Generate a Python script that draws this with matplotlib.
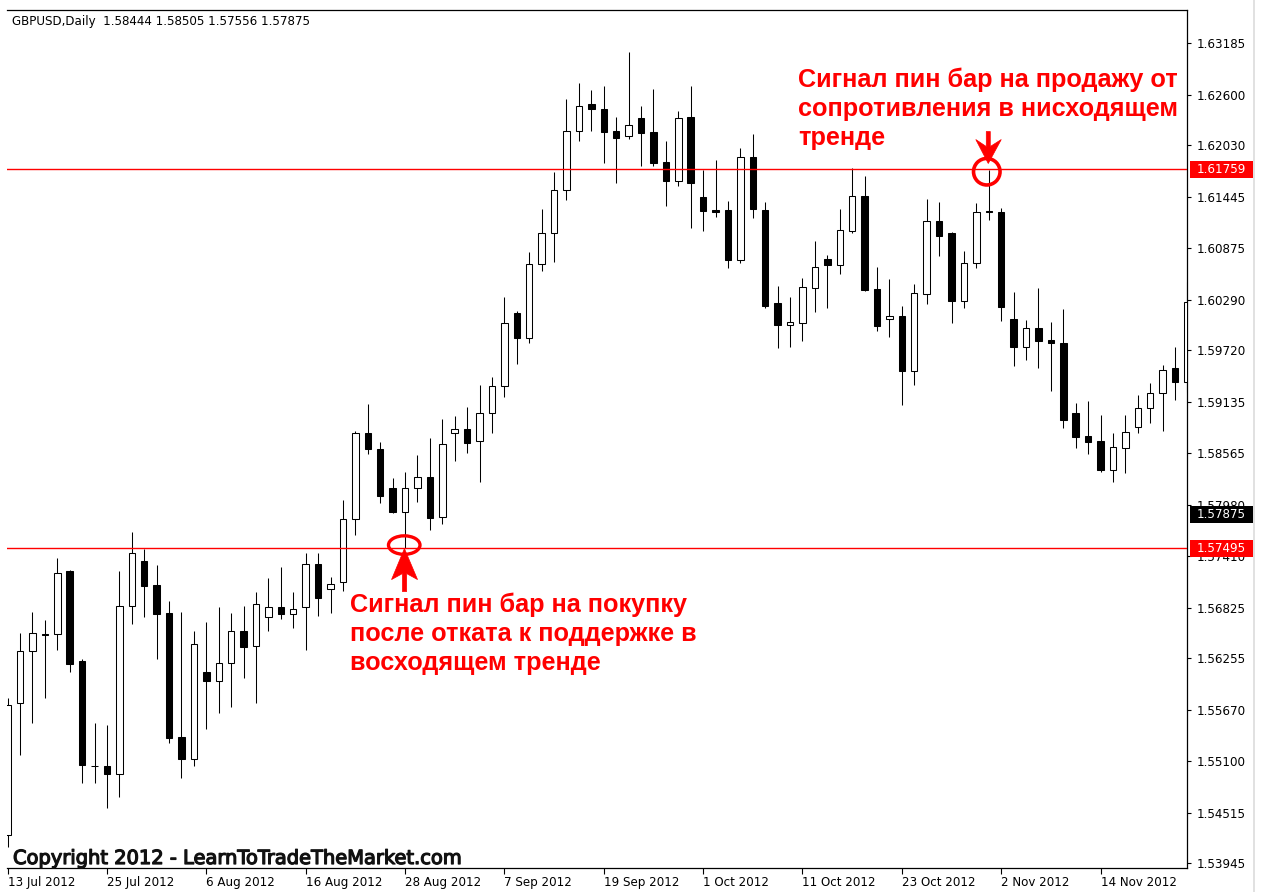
import matplotlib
matplotlib.use('Agg')
import matplotlib.pyplot as plt
import matplotlib.patheffects as pe
from matplotlib.patches import Ellipse, Polygon, Rectangle

# ---------------- data ----------------
opens = [1.54264, 1.55747, 1.56336, 1.56527, 1.56527, 1.57236, 1.56223, 1.55046, 1.55044, 1.54951,
         1.56842, 1.57352, 1.57075, 1.56760, 1.55364, 1.55116, 1.56096, 1.56001, 1.56197, 1.56564,
         1.56392, 1.56722, 1.56828, 1.56752, 1.56828, 1.57315, 1.57034, 1.57109, 1.57822, 1.58787,
         1.58610, 1.58174, 1.57904, 1.58168, 1.58298, 1.57841, 1.58787, 1.58835, 1.58695, 1.59012,
         1.59323, 1.60147, 1.59863, 1.60690, 1.61039, 1.61526, 1.62191, 1.62491, 1.62439, 1.62194,
         1.62134, 1.62334, 1.62176, 1.61845, 1.61628, 1.62352, 1.61444, 1.61301, 1.61301, 1.60738,
         1.61895, 1.61301, 1.60257, 1.60006, 1.60029, 1.60426, 1.60746, 1.60682, 1.61068, 1.61459,
         1.60412, 1.60074, 1.60111, 1.59492, 1.60355, 1.61181, 1.61039, 1.60280, 1.60701, 1.61288,
         1.61282, 1.60074, 1.59755, 1.59976, 1.59837, 1.59800, 1.59012, 1.58756, 1.58700, 1.58374,
         1.58625, 1.58854, 1.59068, 1.59237, 1.59519, 1.59365]
highs = [1.55806, 1.56535, 1.56778, 1.56685, 1.57379, 1.57248, 1.56242, 1.55521, 1.55502, 1.57236,
         1.57672, 1.57481, 1.57304, 1.56902, 1.56778, 1.56564, 1.56659, 1.56828, 1.56760, 1.56846,
         1.57003, 1.57161, 1.57285, 1.57003, 1.57442, 1.57436, 1.57165, 1.58036, 1.58813, 1.59117,
         1.58686, 1.58280, 1.58354, 1.58543, 1.58737, 1.58945, 1.58982, 1.59080, 1.59331, 1.59417,
         1.60327, 1.60167, 1.60832, 1.61309, 1.61726, 1.62548, 1.62728, 1.62652, 1.62701, 1.62352,
         1.63084, 1.62476, 1.62664, 1.62078, 1.62419, 1.62701, 1.61752, 1.61864, 1.61406, 1.62003,
         1.62157, 1.61391, 1.60445, 1.60325, 1.60532, 1.60956, 1.60795, 1.61309, 1.61771, 1.61687,
         1.60663, 1.60521, 1.60224, 1.60468, 1.61425, 1.61395, 1.61048, 1.60843, 1.61377, 1.61757,
         1.61320, 1.60378, 1.60063, 1.60420, 1.60044, 1.60183, 1.59131, 1.59154, 1.58993, 1.58787,
         1.58993, 1.59218, 1.59350, 1.59556, 1.59762, 1.60494]
lows = [1.54129, 1.55165, 1.55528, 1.55803, 1.56347, 1.56103, 1.54846, 1.54846, 1.54564, 1.54688,
        1.56640, 1.56715, 1.56242, 1.55296, 1.54902, 1.55041, 1.55457, 1.55634, 1.55702, 1.56035,
        1.55753, 1.56561, 1.56696, 1.56591, 1.56347, 1.56730, 1.56767, 1.57015, 1.57642, 1.58554,
        1.58005, 1.57893, 1.57500, 1.58010, 1.57698, 1.57762, 1.58478, 1.58568, 1.58235, 1.58794,
        1.59192, 1.59564, 1.59807, 1.60614, 1.60719, 1.61414, 1.62078, 1.62191, 1.61830, 1.61609,
        1.62097, 1.61797, 1.61800, 1.61350, 1.61575, 1.61102, 1.61065, 1.61226, 1.60645, 1.60701,
        1.61208, 1.60194, 1.59742, 1.59753, 1.59830, 1.60156, 1.60194, 1.60577, 1.61046, 1.60389,
        1.59942, 1.59875, 1.59106, 1.59331, 1.60243, 1.60787, 1.60029, 1.60194, 1.60645, 1.61189,
        1.60051, 1.59545, 1.59612, 1.59525, 1.59267, 1.58843, 1.58618, 1.58550, 1.58355, 1.58242,
        1.58343, 1.58794, 1.58899, 1.58813, 1.59162, 1.59255]
closes = [1.55728, 1.56339, 1.56535, 1.56516, 1.57217, 1.56189, 1.55052, 1.55041, 1.54951, 1.56842,
          1.57442, 1.57067, 1.56752, 1.55353, 1.55116, 1.56411, 1.55998, 1.56197, 1.56564, 1.56384,
          1.56861, 1.56828, 1.56752, 1.56808, 1.57315, 1.56929, 1.57090, 1.57822, 1.58794, 1.58607,
          1.58081, 1.57897, 1.58174, 1.58291, 1.57837, 1.58666, 1.58832, 1.58674, 1.59012, 1.59323,
          1.60026, 1.59863, 1.60690, 1.61039, 1.61526, 1.62194, 1.62472, 1.62435, 1.62183, 1.62115,
          1.62258, 1.62172, 1.61827, 1.61628, 1.62334, 1.61609, 1.61293, 1.61282, 1.60738, 1.61895,
          1.61312, 1.60224, 1.60003, 1.60044, 1.60431, 1.60656, 1.60682, 1.61076, 1.61459, 1.60400,
          1.59998, 1.60111, 1.59492, 1.60363, 1.61181, 1.61012, 1.60277, 1.60701, 1.61282, 1.61281,
          1.60212, 1.59755, 1.59969, 1.59826, 1.59800, 1.58937, 1.58749, 1.58692, 1.58374, 1.58629,
          1.58805, 1.59068, 1.59237, 1.59500, 1.59365, 1.60269]

date_tick_idx = [0, 8, 16, 24, 32, 40, 48, 56, 64, 72, 80, 88]
date_labels = ['13 Jul 2012', '25 Jul 2012', '6 Aug 2012', '16 Aug 2012', '28 Aug 2012',
               '7 Sep 2012', '19 Sep 2012', '1 Oct 2012', '11 Oct 2012', '23 Oct 2012',
               '2 Nov 2012', '14 Nov 2012']
price_ticks = [1.63185, 1.62600, 1.62030, 1.61445, 1.60875, 1.60290, 1.59720, 1.59135, 1.58565,
               1.57980, 1.57410, 1.56825, 1.56255, 1.55670, 1.55100, 1.54515, 1.53945]
resistance = 1.61759
support = 1.57495
bid = 1.57875
pin_sell_idx = 79
pin_buy_idx = 32
header = 'GBPUSD,Daily  1.58444 1.58505 1.57556 1.57875'
copyright_txt = 'Copyright 2012 - LearnToTradeTheMarket.com'
sell_text = ['Сигнал пин бар на продажу от', 'сопротивления в нисходящем', 'тренде']
buy_text = ['Сигнал пин бар на покупку', 'после отката к поддержке в', 'восходящем тренде']

# ---------------- layout ----------------
W, H, DPI = 1262, 892, 100
fig = plt.figure(figsize=(W / DPI, H / DPI), dpi=DPI)
fig.patch.set_facecolor('white')

ax_l, ax_r, ax_t, ax_b = 7, 1187.5, 10, 868
ax = fig.add_axes([ax_l / W, 1 - ax_b / H, (ax_r - ax_l) / W, (ax_b - ax_t) / H])
ax.set_facecolor('white')

n = len(opens)
xs = list(range(n))
ax.vlines(xs, lows, highs, color='black', lw=0.75, zorder=2)
body_bottom = [min(o, c) for o, c in zip(opens, closes)]
body_height = [abs(c - o) for o, c in zip(opens, closes)]
fills = ['white' if c >= o else 'black' for o, c in zip(opens, closes)]
ax.bar(xs, body_height, bottom=body_bottom, width=0.52, color=fills,
       edgecolor='black', linewidth=0.75, zorder=3)

ax.axhline(resistance, color='#ff0000', lw=1.0, zorder=4)
ax.axhline(support, color='#ff0000', lw=1.0, zorder=4)

ax.set_xlim(-0.048, 95.0)
ax.set_ylim(1.538921, 1.635532)

ax.spines['left'].set_visible(False)
for s in ['top', 'right', 'bottom']:
    ax.spines[s].set_linewidth(0.9)
    ax.spines[s].set_color('black')

ax.yaxis.tick_right()
ax.set_yticks(price_ticks)
ax.set_yticklabels(['%.5f' % v for v in price_ticks])
ax.tick_params(axis='y', direction='out', length=3, width=0.8, pad=3.5,
               labelsize=8.6, colors='black')
ax.set_xticks(date_tick_idx)
ax.set_xticklabels(date_labels)
ax.tick_params(axis='x', direction='out', length=4, width=0.8, pad=2,
               labelsize=8.6, colors='black')
for lab in ax.get_xticklabels():
    lab.set_horizontalalignment('left')

# ---------------- overlay (pixel coordinates) ----------------
ov = fig.add_axes([0, 0, 1, 1])
ov.set_xlim(0, W)
ov.set_ylim(H, 0)
ov.axis('off')
ov.set_zorder(10)

fig.canvas.draw()
renderer = fig.canvas.get_renderer()


def to_px(x, y):
    dx, dy = ax.transData.transform((x, y))
    return dx, H - dy


# right-axis price boxes
for val, col in [(resistance, '#ff0000'), (bid, '#000000'), (support, '#ff0000')]:
    _, yp = to_px(0, val)
    ov.add_patch(Rectangle((1190, yp - 8.5), 63, 17, facecolor=col, edgecolor='none', zorder=5))
    ov.text(1221.5, yp, '%.5f' % val, color='white', fontsize=8.6, ha='center',
            va='center', zorder=6)

# grey separator at far right
ov.plot([1254, 1254], [0, H], color='#dcdcdc', lw=1.2)

# header
ov.text(12, 22, header, fontsize=8.6, va='center', ha='left', color='black')


def fit_text(x, y, s, target_w, **kw):
    t = ov.text(x, y, s, fontsize=10, **kw)
    w = t.get_window_extent(renderer).width
    fs = 10 * target_w / w
    t.set_fontsize(fs)
    return t, fs


# copyright (slightly emboldened)
fit_text(13, 864, copyright_txt, 449, family='DejaVu Sans', color='#111111',
         va='baseline', ha='left',
         path_effects=[pe.withStroke(linewidth=0.9, foreground='#111111')])

# annotation texts
ann_kw = dict(family='Liberation Sans', weight='bold', color='#ff0000', va='baseline', ha='left')
_, fs = fit_text(798, 87, sell_text[0], 379, **ann_kw)
ov.text(798, 116, sell_text[1], fontsize=fs, **ann_kw)
ov.text(798, 145, sell_text[2], fontsize=fs, **ann_kw)
ov.text(350, 612, buy_text[0], fontsize=fs, **ann_kw)
ov.text(350, 641, buy_text[1], fontsize=fs, **ann_kw)
ov.text(350, 670, buy_text[2], fontsize=fs, **ann_kw)

red = '#ff0000'
# buy pin bar marker
bx, by = to_px(pin_buy_idx, lows[pin_buy_idx])
ov.add_patch(Ellipse((bx - 0.8, by - 2.5), 31.5, 18.5, fill=False, edgecolor=red, lw=2.4))
tip_y = by + 1
ov.add_patch(Polygon([(bx - 0.6, tip_y), (bx + 12.5, tip_y + 31), (bx + 1.6, tip_y + 25),
                      (bx + 1.6, tip_y + 43), (bx - 2.6, tip_y + 43), (bx - 2.6, tip_y + 25),
                      (bx - 13.5, tip_y + 31)], closed=True, facecolor=red, edgecolor=red, lw=0.5))

# sell pin bar marker
sx, sy = to_px(pin_sell_idx, highs[pin_sell_idx])
ov.add_patch(Ellipse((sx - 2, sy + 2.2), 26.5, 26.5, fill=False, edgecolor=red, lw=2.6))
tip_y = sy - 6
ov.add_patch(Polygon([(sx - 0.5, tip_y), (sx + 12.5, tip_y - 24), (sx + 1.5, tip_y - 17),
                      (sx + 1.5, tip_y - 32), (sx - 2.5, tip_y - 32), (sx - 2.5, tip_y - 17),
                      (sx - 13, tip_y - 24)], closed=True, facecolor=red, edgecolor=red, lw=0.5))

fig.savefig('out.png', dpi=DPI, facecolor='white')
